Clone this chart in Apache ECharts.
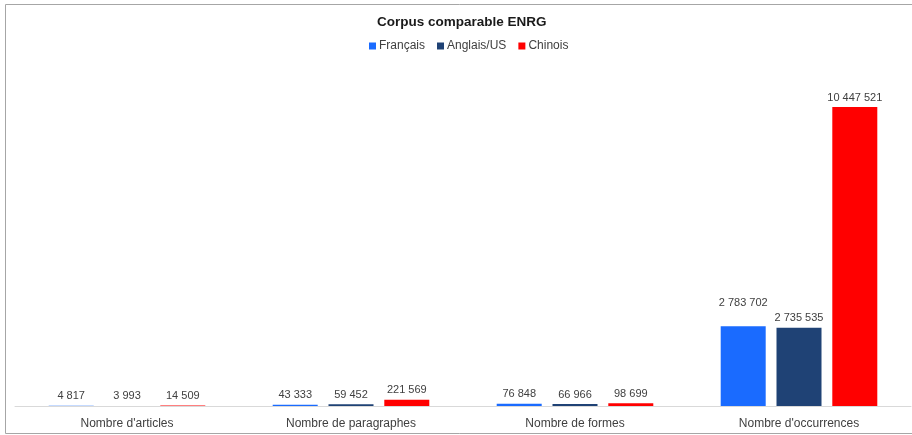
<!DOCTYPE html>
<html>
<head>
<meta charset="utf-8">
<style>
  html, body { margin: 0; padding: 0; background: #fff; }
  #chart { width: 912px; height: 435px; }
</style>
<script src="https://cdn.jsdelivr.net/npm/echarts@6/dist/echarts.min.js"></script>
</head>
<body>
<div id="chart"></div>
<script>
// Categories and per-language counts
const categories = ["Nombre d'articles", "Nombre de paragraphes", "Nombre de formes", "Nombre d'occurrences"];
const seriesNames = ["Français", "Anglais/US", "Chinois"];
const francais = [4817, 43333, 76848, 2783702];
const anglais = [3993, 59452, 66966, 2735535];
const chinois = [14509, 221569, 98699, 10447521];

const colors = ["#1A6BFF", "#1F4275", "#FF0000"];

function fmt(v) {
  return String(v).replace(/\B(?=(\d{3})+(?!\d))/g, " ");
}

function makeSeries(name, values, color, raised) {
  return {
    name: name,
    type: "bar",
    barWidth: 45,
    barGap: "24%",
    itemStyle: { color: color },
    label: {
      show: true,
      position: "top",
      distance: 4,
      color: "#404040",
      fontSize: 11,
      fontFamily: "Liberation Sans",
      formatter: p => fmt(p.value)
    },
    data: values.map((v, i) => {
      const item = { value: v };
      if (raised && raised[i]) item.label = { offset: [0, -raised[i]] };
      return item;
    })
  };
}

const chart = echarts.init(document.getElementById("chart"));
chart.setOption({
  animation: false,
  backgroundColor: "#ffffff",
  textStyle: { fontFamily: "Liberation Sans" },
  graphic: [{
    type: "rect",
    shape: { x: 5.5, y: 4.5, width: 920, height: 429 },
    style: { fill: "none", stroke: "#a6a6a6", lineWidth: 1 },
    silent: true,
    z: 100
  }],
  title: {
    text: "Corpus comparable ENRG",
    left: 372,
    top: 10,
    textStyle: { fontSize: 13.5, fontWeight: "bold", color: "#1a1a1a", fontFamily: "Liberation Sans" }
  },
  legend: {
    data: seriesNames,
    top: 35,
    left: 364,
    itemWidth: 7,
    itemHeight: 7,
    itemGap: 12,
    icon: "rect",
    textStyle: { fontSize: 12, color: "#404040", padding: [0, 0, 0, -2] }
  },
  grid: { left: 15, right: 1, top: 62.6, bottom: 29, containLabel: false },
  xAxis: {
    type: "category",
    data: categories,
    axisLine: { lineStyle: { color: "#d9d9d9", width: 1 } },
    axisTick: { show: false },
    axisLabel: { color: "#404040", fontSize: 12, margin: 12 }
  },
  yAxis: {
    type: "value",
    min: 0,
    max: 12000000,
    show: false,
    splitLine: { show: false }
  },
  series: [
    makeSeries(seriesNames[0], francais, colors[0], [0, 0, 0, 14]),
    makeSeries(seriesNames[1], anglais, colors[1]),
    makeSeries(seriesNames[2], chinois, colors[2])
  ]
});
</script>
</body>
</html>
